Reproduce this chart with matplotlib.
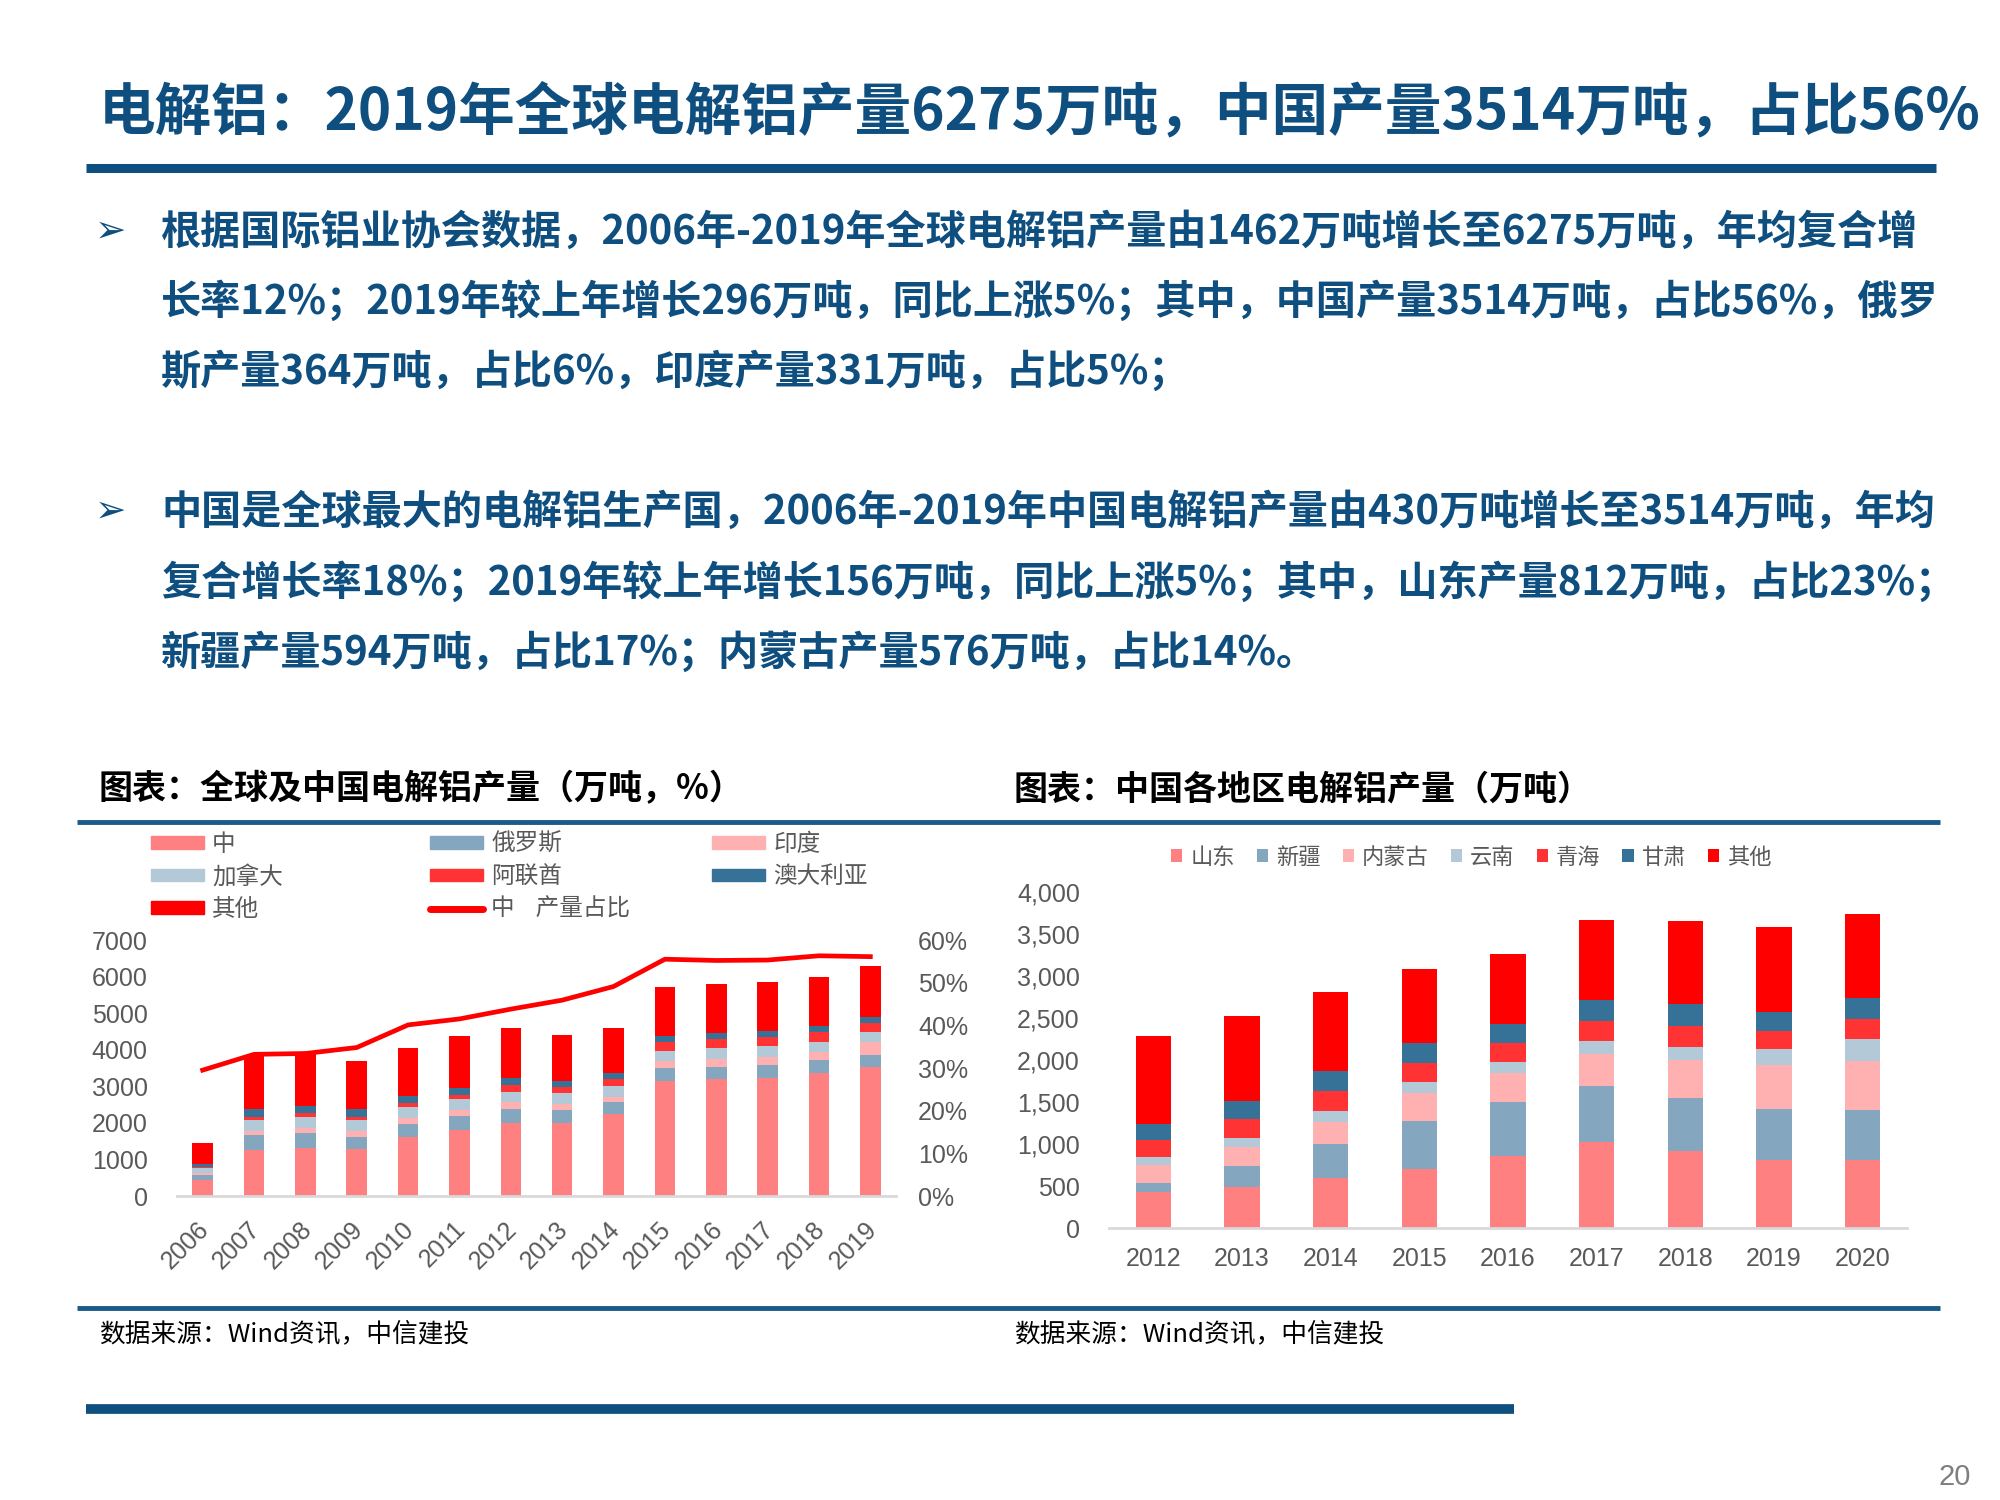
import matplotlib
matplotlib.use("Agg")
import matplotlib.pyplot as plt
from matplotlib.lines import Line2D
from matplotlib.patches import Patch
from matplotlib.transforms import ScaledTranslation
import numpy as np

# ---- data: global production by country (万吨) ----
years_g = ["2006", "2007", "2008", "2009", "2010", "2011", "2012",
           "2013", "2014", "2015", "2016", "2017", "2018", "2019"]
china = [430, 1259, 1322, 1276, 1604, 1796, 1987, 1987, 2233, 3145, 3190, 3218, 3355, 3519]
russia = [145, 400, 410, 347, 365, 392, 392, 365, 338, 346, 347, 364, 364, 337]
india = [45, 127, 137, 155, 173, 164, 183, 164, 127, 201, 200, 210, 228, 346]
canada = [137, 290, 300, 300, 300, 292, 282, 292, 310, 273, 301, 319, 274, 292]
uae = [43, 92, 90, 92, 91, 118, 192, 182, 192, 256, 246, 246, 273, 228]
australia = [75, 200, 200, 200, 200, 200, 200, 164, 155, 164, 165, 164, 155, 164]
other_g = [587, 1486, 1440, 1322, 1322, 1413, 1349, 1240, 1230, 1322, 1340, 1331, 1331, 1395]
china_share = [29.5, 33.2, 33.4, 34.8, 40.1, 41.5, 43.8, 45.9, 49.1, 55.5, 55.2, 55.3, 56.3, 56.1]

# ---- data: China by province (万吨) ----
years_c = ["2012", "2013", "2014", "2015", "2016", "2017", "2018", "2019", "2020"]
shandong = [426, 486, 594, 705, 857, 1028, 912, 813, 813]
xinjiang = [108, 251, 402, 570, 641, 661, 638, 605, 589]
neimenggu = [219, 227, 267, 327, 343, 387, 450, 518, 582]
yunnan = [92, 112, 127, 135, 135, 151, 159, 191, 271]
qinghai = [207, 227, 243, 223, 223, 239, 243, 220, 239]
gansu = [183, 207, 236, 239, 227, 251, 259, 227, 239]
other_c = [1052, 1016, 944, 889, 837, 944, 996, 1012, 1000]

labels_g = ["中", "俄罗斯", "印度", "加拿大", "阿联酋", "澳大利亚", "其他"]
labels_c = ["山东", "新疆", "内蒙古", "云南", "青海", "甘肃", "其他"]
colors = ["#ff8080", "#84a7bf", "#ffb1b1", "#b4c9d8", "#ff3333", "#367297", "#ff0000"]

BLUE = "#0e4f80"
GREY = "#595959"
CJK = ["Noto Sans CJK SC", "DejaVu Sans"]
NUM = ["Liberation Sans", "Noto Sans CJK SC"]
TICK = 18

plt.rcParams["font.family"] = NUM

W, H = 2000, 1500
fig = plt.figure(figsize=(20, 15), dpi=100)


def fx(px):
    return px / W


def fy(py):
    return 1 - py / H


def hline(x0, x1, y, lw, color=BLUE):
    fig.add_artist(Line2D([fx(x0), fx(x1)], [fy(y), fy(y)], lw=lw, color=color,
                          solid_capstyle="butt"))


# ---- header ----
fig.text(fx(99), fy(112), "电解铝：2019年全球电解铝产量6275万吨，中国产量3514万吨，占比56%",
         family=CJK, fontsize=40.8, weight="bold", color=BLUE, va="center", ha="left")
hline(86, 1936, 168, 6.5)

para1 = ["根据国际铝业协会数据，2006年-2019年全球电解铝产量由1462万吨增长至6275万吨，年均复合增",
         "长率12%；2019年较上年增长296万吨，同比上涨5%；其中，中国产量3514万吨，占比56%，俄罗",
         "斯产量364万吨，占比6%，印度产量331万吨，占比5%；"]
para2 = ["中国是全球最大的电解铝生产国，2006年-2019年中国电解铝产量由430万吨增长至3514万吨，年均",
         "复合增长率18%；2019年较上年增长156万吨，同比上涨5%；其中，山东产量812万吨，占比23%；",
         "新疆产量594万吨，占比17%；内蒙古产量576万吨，占比14%。"]
for lines, ys in ((para1, [232, 302, 372]), (para2, [512, 583, 653])):
    fig.text(fx(111), fy(ys[0]), "➢", family=["DejaVu Sans"], fontsize=27,
             color=BLUE, va="center", ha="center")
    for s, y in zip(lines, ys):
        fig.text(fx(161), fy(y), s, family=CJK, fontsize=28.9, weight="bold",
                 color=BLUE, va="center", ha="left")

# ---- chart frames ----
fig.text(fx(99), fy(789), "图表：全球及中国电解铝产量（万吨，%）", family=CJK,
         fontsize=24.5, weight="bold", color="black", va="center")
fig.text(fx(1014), fy(789), "图表：中国各地区电解铝产量（万吨）", family=CJK,
         fontsize=24.5, weight="bold", color="black", va="center")
hline(77, 1940, 822, 3.5, "#1a5a8a")
hline(77, 1940, 1308, 3.5, "#1a5a8a")
for x in (99, 1014):
    fig.text(fx(x), fy(1334), "数据来源：Wind资讯，中信建投", family=CJK, fontsize=18.5,
             style="italic", color="black", va="center")
hline(86, 1514, 1409, 7)
fig.text(fx(1955), fy(1477), "20", family=["Liberation Sans"], fontsize=21,
         color="#7f7f7f", va="center", ha="center")


def style_axis(ax):
    for side in ("top", "left", "right"):
        ax.spines[side].set_visible(False)
    ax.spines["bottom"].set_color("#d9d9d9")
    ax.spines["bottom"].set_linewidth(2)
    ax.tick_params(length=0, labelcolor=GREY, labelsize=TICK)


# ---- left chart ----
axL = fig.add_axes([fx(177), fy(1196), (896 - 177) / W, (1196 - 940) / H])
series_g = [china, russia, india, canada, uae, australia, other_g]
x = np.arange(len(years_g))
bottom = np.zeros(len(years_g))
for vals, c in zip(series_g, colors):
    axL.bar(x, vals, 0.4, bottom=bottom, color=c, linewidth=0)
    bottom += np.array(vals)
axL.set_xlim(-0.5, len(years_g) - 0.5)
axL.set_ylim(0, 7000)
axL.set_yticks(range(0, 7001, 1000))
axL.set_xticks(x)
axL.set_xticklabels(years_g, rotation=45, ha="right")
style_axis(axL)
axL.tick_params(axis="y", pad=21)
axL.tick_params(axis="x", pad=15)
shift = ScaledTranslation(11 / 100, 0, fig.dpi_scale_trans)
for lab in axL.get_xticklabels():
    lab.set_transform(lab.get_transform() + shift)

axR = axL.twinx()
axR.plot(x, np.array(china_share) / 100, color="#ff0000", lw=3.4)
axR.set_ylim(0, 0.6)
pct = np.arange(0, 0.61, 0.1)
axR.set_yticks(pct)
axR.set_yticklabels([f"{int(round(v * 100))}%" for v in pct])
for side in ("top", "left", "right", "bottom"):
    axR.spines[side].set_visible(False)
axR.tick_params(length=0, labelcolor=GREY, labelsize=TICK, pad=16)

# legend in three columns
line_label = "中    产量占比"
cols = [
    ([Patch(color=colors[0]), Patch(color=colors[3]), Patch(color=colors[6])],
     [labels_g[0], labels_g[3], labels_g[6]], 151),
    ([Patch(color=colors[1]), Patch(color=colors[4]),
      Line2D([0], [0], color="#ff0000", lw=5, solid_capstyle="round")],
     [labels_g[1], labels_g[4], line_label], 430),
    ([Patch(color=colors[2]), Patch(color=colors[5])],
     [labels_g[2], labels_g[5]], 712),
]
for handles, labs, xp in cols:
    fig.legend(handles, labs, loc="upper left", bbox_to_anchor=(fx(xp), fy(833)),
               frameon=False, borderpad=0, borderaxespad=0, handlelength=2.25,
               handleheight=0.42, handletextpad=0.34, labelspacing=0.40,
               prop={"family": CJK, "size": 17}, labelcolor=GREY)

# ---- right chart ----
axC = fig.add_axes([fx(1109), fy(1228), (1907 - 1109) / W, (1228 - 892) / H])
series_c = [shandong, xinjiang, neimenggu, yunnan, qinghai, gansu, other_c]
xc = np.arange(len(years_c))
bottom = np.zeros(len(years_c))
for vals, c, lab in zip(series_c, colors, labels_c):
    axC.bar(xc, vals, 0.4, bottom=bottom, color=c, linewidth=0, label=lab)
    bottom += np.array(vals)
axC.set_xlim(-0.5, len(years_c) - 0.5)
axC.set_ylim(0, 4000)
ticks_c = range(0, 4001, 500)
axC.set_yticks(ticks_c)
axC.set_yticklabels([f"{v:,}" for v in ticks_c])
axC.set_xticks(xc)
axC.set_xticklabels(years_c)
style_axis(axC)
axC.tick_params(axis="y", pad=21)
axC.tick_params(axis="x", pad=14)
fig.legend(*axC.get_legend_handles_labels(), loc="center left",
           bbox_to_anchor=(fx(1171), fy(857)), ncol=7, frameon=False, borderpad=0,
           borderaxespad=0, handlelength=0.5, handleheight=0.5, handletextpad=0.36,
           columnspacing=1.0, prop={"family": CJK, "size": 16}, labelcolor=GREY)

fig.savefig("out.png", dpi=100)
